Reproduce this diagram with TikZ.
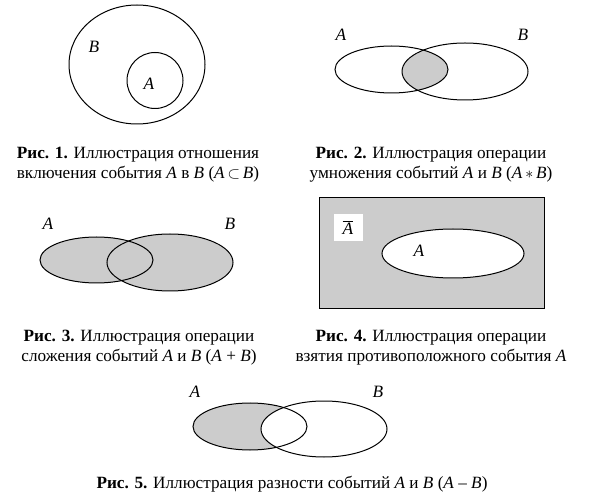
\documentclass[tikz,border=0pt]{standalone}
\usepackage{fontspec}
\setmainfont{Liberation Serif}
\usepackage{tikz}
\usetikzlibrary{calc}
\tikzset{
	setline/.style={line width=0.75pt},
	shaded/.style={fill=black!20},
	lbl/.style={font=\fontsize{13}{15}\selectfont\itshape, inner sep=0pt},
	capt/.style={font=\fontsize{12.9}{15}\selectfont, align=center, inner sep=0pt}
}

\begin{document}
\begin{tikzpicture}[x=0.75pt, y=-0.75pt]
			%%%%% START %%%%%
			\useasboundingbox (0, 0) rectangle (600, 502);
			
			% fig 1
			\draw[setline] (137, 64.5) ellipse (68 and 59.5);
			\draw[setline] (155, 80.5) circle (28);
			\node[lbl] (b1) at (94, 47) {B};
			\node[lbl] (a1) at (149, 84) {A};
			\node[capt] (cap1) at (138, 164.5) {\textbf{Рис. 1.} Иллюстрация отношения\\включения события \textit{A} в \textit{B} (\textit{A}\,$\subset$\,\textit{B})};
			
			% fig 2
			\begin{scope}
				\clip (391.5, 69.5) ellipse (56.5 and 23.5);
				\fill[shaded] (465, 71.5) ellipse (63 and 28.5);
			\end{scope}
			\draw[setline] (391.5, 69.5) ellipse (56.5 and 23.5);
			\draw[setline] (465, 71.5) ellipse (63 and 28.5);
			\node[lbl] (a2) at (341, 35) {A};
			\node[lbl] (b2) at (523, 35) {B};
			\node[capt] (cap2) at (431, 164.5) {\textbf{Рис. 2.} Иллюстрация операции\\умножения событий \textit{A} и \textit{B} (\textit{A}\,$\ast$\,\textit{B})};
			
			% fig 3
			\fill[shaded] (96.5, 260) ellipse (56.5 and 23);
			\fill[shaded] (170, 262.5) ellipse (63 and 28.5);
			\draw[setline] (96.5, 260) ellipse (56.5 and 23);
			\draw[setline] (170, 262.5) ellipse (63 and 28.5);
			\node[lbl] (a3) at (48, 224) {A};
			\node[lbl] (b3) at (230, 224) {B};
			\node[capt] (cap3) at (139, 347.5) {\textbf{Рис. 3.} Иллюстрация операции\\сложения событий \textit{A} и \textit{B} (\textit{A} + \textit{B})};
			
			% fig 4
			\draw[setline, shaded] (319, 198) rectangle (544, 309);
			\draw[setline, fill=white] (453, 253.5) ellipse (71 and 24.5);
			\fill[white] (334, 214) rectangle (363, 241);
			\node[lbl] (na4) at (348, 227.5) {$\overline{\mbox{\itshape A}}$};
			\node[lbl] (a4) at (419, 251) {A};
			\node[capt] (cap4) at (431, 347.5) {\textbf{Рис. 4.} Иллюстрация операции\\взятия противоположного события \textit{A}};
			
			% fig 5
			\fill[shaded] (250, 426.5) ellipse (57 and 23.5);
			\fill[white] (324, 429) ellipse (63 and 28);
			\draw[setline] (250, 426.5) ellipse (57 and 23.5);
			\draw[setline] (324, 429) ellipse (63 and 28);
			\node[lbl] (a5) at (195, 392) {A};
			\node[lbl] (b5) at (378, 392) {B};
			\node[capt] (cap5) at (292, 484) {\textbf{Рис. 5.} Иллюстрация разности событий \textit{A} и \textit{B} (\textit{A} -- \textit{B})};
			%%%%% END %%%%%
\end{tikzpicture}
\end{document}
